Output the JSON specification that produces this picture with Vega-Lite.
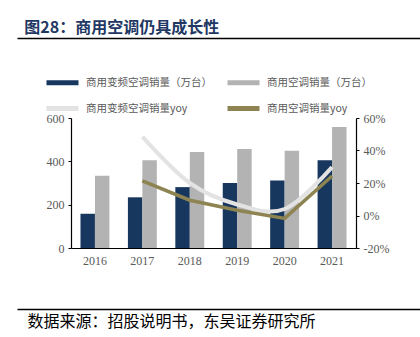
{
  "$schema": "https://vega.github.io/schema/vega-lite/v6.json",
  "width": 285,
  "height": 130,
  "autosize": {"type": "none"},
  "padding": {"left": 71, "top": 118, "right": 64, "bottom": 89},
  "background": "white",
  "title": {
    "text": "图28：商用空调仍具成长性",
    "anchor": "start",
    "frame": "bounds",
    "dx": 10,
    "offset": 2,
    "font": "Noto Sans CJK SC",
    "fontSize": 16,
    "fontWeight": "bold",
    "color": "#1f3864"
  },
  "config": {
    "view": {"stroke": null},
    "axis": {"grid": false, "labelOverlap": false, "labelFont": "Liberation Serif", "labelFontSize": 12, "labelColor": "#595959", "domainColor": "#000000", "tickColor": "#000000", "tickSize": 3, "domainWidth": 1.2, "titleFont": "Noto Sans CJK SC"}
  },
  "datasets": {
    "bars": [
      {"year": "2016", "series": "商用变频空调销量（万台）", "value": 158},
      {"year": "2016", "series": "商用空调销量（万台）", "value": 334},
      {"year": "2017", "series": "商用变频空调销量（万台）", "value": 234},
      {"year": "2017", "series": "商用空调销量（万台）", "value": 405},
      {"year": "2018", "series": "商用变频空调销量（万台）", "value": 281},
      {"year": "2018", "series": "商用空调销量（万台）", "value": 443},
      {"year": "2019", "series": "商用变频空调销量（万台）", "value": 300},
      {"year": "2019", "series": "商用空调销量（万台）", "value": 457},
      {"year": "2020", "series": "商用变频空调销量（万台）", "value": 312},
      {"year": "2020", "series": "商用空调销量（万台）", "value": 449},
      {"year": "2021", "series": "商用变频空调销量（万台）", "value": 405},
      {"year": "2021", "series": "商用空调销量（万台）", "value": 558}
    ],
    "lines": [
      {"year": "2017", "series": "商用变频空调销量yoy", "yoy": 0.485},
      {"year": "2018", "series": "商用变频空调销量yoy", "yoy": 0.20},
      {"year": "2019", "series": "商用变频空调销量yoy", "yoy": 0.068},
      {"year": "2020", "series": "商用变频空调销量yoy", "yoy": 0.04},
      {"year": "2021", "series": "商用变频空调销量yoy", "yoy": 0.298},
      {"year": "2017", "series": "商用空调销量yoy", "yoy": 0.213},
      {"year": "2018", "series": "商用空调销量yoy", "yoy": 0.094},
      {"year": "2019", "series": "商用空调销量yoy", "yoy": 0.032},
      {"year": "2020", "series": "商用空调销量yoy", "yoy": -0.018},
      {"year": "2021", "series": "商用空调销量yoy", "yoy": 0.243}
    ],
    "decor": [{"d": 0}, {"d": 1}]
  },
  "layer": [
    {
      "layer": [
        {
          "data": {"name": "bars"},
          "mark": {"type": "bar"},
          "encoding": {
            "x": {"field": "year", "type": "nominal", "scale": {"paddingInner": 0.39, "paddingOuter": 0.2}, "axis": {"title": null, "ticks": false, "labelAngle": 0, "labelPadding": 7}},
            "xOffset": {"field": "series", "type": "nominal", "scale": {"domain": ["商用变频空调销量（万台）", "商用空调销量（万台）"], "paddingInner": 0, "paddingOuter": 0}},
            "y": {"field": "value", "type": "quantitative", "scale": {"domain": [0, 600], "nice": false}, "axis": {"title": null, "values": [0, 200, 400, 600], "labelPadding": 4, "labelOverlap": false}},
            "color": {
              "field": "series", "type": "nominal",
              "scale": {"domain": ["商用变频空调销量（万台）", "商用空调销量（万台）", "商用变频空调销量yoy", "商用空调销量yoy"], "range": ["#17375e", "#b3b3b3", "#e3e3e3", "#8e8452"]},
              "legend": {
                "title": null, "orient": "none", "legendX": -27, "legendY": -46, "direction": "horizontal", "columns": 2, "columnPadding": 5, "rowPadding": 5,
                "symbolType": "M-1,0H3", "symbolSize": 256, "symbolStrokeWidth": 5, "labelFont": "Noto Sans CJK SC", "labelFontSize": 10.5, "labelColor": "#595959", "labelOffset": 21,
                "encode": {"symbols": {"update": {"stroke": {"scale": "color", "field": "value"}, "fill": {"value": "transparent"}, "strokeWidth": {"value": 5}}}}
              }
            }
          }
        },
        {
          "data": {"name": "lines"},
          "encoding": {
            "x": {"field": "year", "type": "nominal"},
            "y": {"field": "yoy", "type": "quantitative", "scale": {"domain": [-0.2, 0.6], "nice": false}, "axis": {"title": null, "orient": "right", "values": [-0.2, 0, 0.2, 0.4, 0.6], "labelExpr": "replace(format(datum.value, '.0%'), '−', '-')", "labelPadding": 4, "labelOverlap": false}},
            "color": {"field": "series", "type": "nominal"}
          },
          "layer": [
            {
              "transform": [{"filter": "datum.series === '商用变频空调销量yoy'"}],
              "mark": {"type": "line", "interpolate": "cardinal", "strokeWidth": 4}
            },
            {
              "transform": [{"filter": "datum.series === '商用空调销量yoy'"}],
              "mark": {"type": "line", "interpolate": "linear", "strokeWidth": 3.5}
            }
          ]
        }
      ],
      "resolve": {"scale": {"y": "independent"}}
    },
    {
      "data": {"name": "decor"},
      "mark": {"type": "point", "opacity": 0},
      "encoding": {
        "x": {"field": "d", "type": "quantitative", "scale": {"domain": [0, 1], "range": [-54, 349], "nice": false, "zero": false},
              "axis": {"orient": "top", "offset": 80, "labels": false, "ticks": false, "title": null, "domainWidth": 1.5, "domainColor": "#000000"}}
      }
    },
    {
      "data": {"name": "decor"},
      "mark": {"type": "point", "opacity": 0},
      "encoding": {
        "x": {"field": "d", "type": "quantitative", "scale": {"domain": [0, 1], "range": [-54, 349], "nice": false, "zero": false},
              "axis": {"orient": "bottom", "offset": 61, "labels": false, "ticks": false, "domainWidth": 1.5, "domainColor": "#000000",
                       "title": "数据来源：招股说明书，东吴证券研究所", "titleAnchor": "start", "titleAlign": "left", "titleX": -44, "titlePadding": 4,
                       "titleFont": "Noto Sans CJK SC", "titleFontSize": 16, "titleFontWeight": "normal", "titleColor": "#000000"}}
      }
    }
  ],
  "resolve": {"scale": {"x": "independent", "y": "independent"}, "axis": {"x": "independent"}}
}
